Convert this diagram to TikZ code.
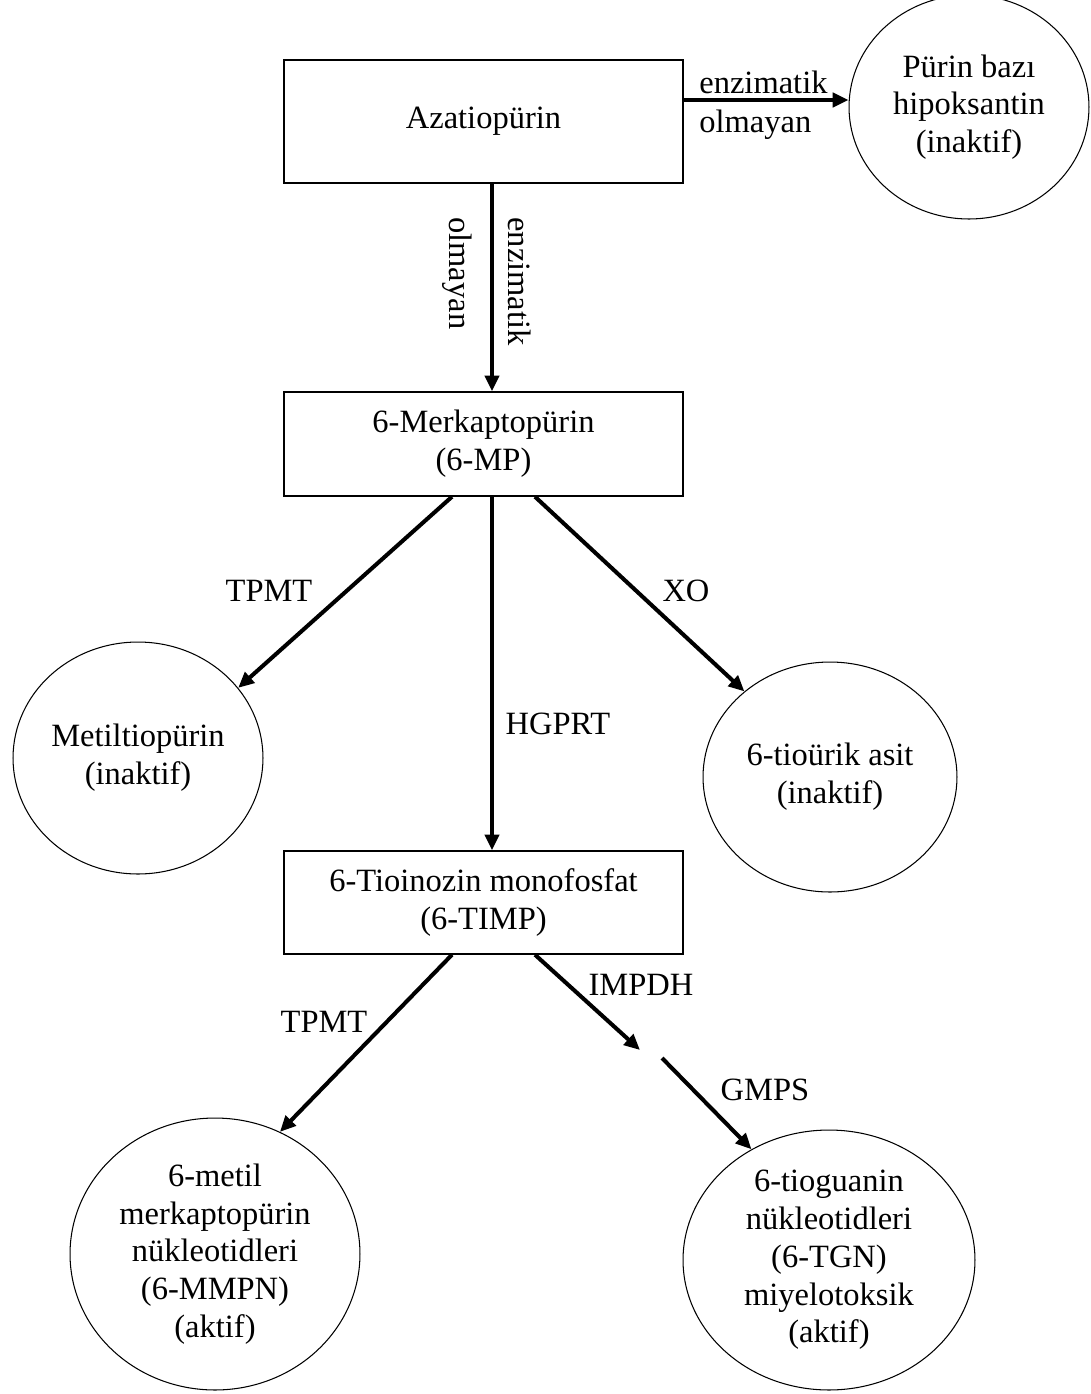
\documentclass[tikz,border=0pt]{standalone}
\usepackage{fontspec}
\setmainfont{Liberation Serif}
\usepackage{tikz}
\usetikzlibrary{shapes.geometric, arrows.meta, calc}

\begin{document}
\begin{tikzpicture}[x=0.02cm, y=-0.02cm,
    every node/.style={font=\fontsize{18.5}{21.5}\selectfont},
    drug/.style={rectangle, draw, line width=0.8pt, minimum width=7.98cm, inner sep=0pt, align=center},
    metabolite/.style={ellipse, draw, line width=0.6pt, inner sep=0pt, align=center},
    lbl/.style={inner sep=0pt},
    arrow/.style={-{Triangle[length=9pt, width=8pt]}, line width=2.3pt}
]
\useasboundingbox (0,0) rectangle (1091,1394);

\node[drug, minimum height=2.46cm] (aza) at (483.5,121.5) {Azatiopürin};
\node[metabolite, minimum width=4.8cm, minimum height=4.48cm] (pur) at (969,107) {Pürin bazı\\hipoksantin\\(inaktif)};
\node[drug, minimum height=2.08cm] (mp) at (483.5,444) {6-Merkaptopürin\\(6-MP)};
\node[metabolite, minimum width=5cm, minimum height=4.64cm] (mtp) at (138,758) {Metiltiopürin\\(inaktif)};
\node[metabolite, minimum width=5.08cm, minimum height=4.6cm] (tio) at (830,777) {6-tioürik asit\\(inaktif)};
\node[drug, minimum height=2.06cm] (timp) at (483.5,902.5) {6-Tioinozin monofosfat\\(6-TIMP)};
\node[metabolite, minimum width=5.8cm, minimum height=5.44cm] (mmpn) at (215,1254) {6-metil\\merkaptopürin\\nükleotidleri\\(6-MMPN)\\(aktif)};
\node[metabolite, minimum width=5.84cm, minimum height=5.2cm] (tgn) at (829,1260) {6-tioguanin\\nükleotidleri\\(6-TGN)\\miyelotoksik\\(aktif)};
\coordinate (impdh) at (640,1050);
\coordinate (gmps) at (662,1058);

% labels
\node[lbl, anchor=west] (enz1) at (699,82) {enzimatik};
\node[lbl, anchor=west] (olm1) at (699,125) {olmayan};
\node[lbl, anchor=west, rotate=-90] (enz2) at (520,217) {enzimatik};
\node[lbl, anchor=west, rotate=-90] (olm2) at (457,217) {olmayan};
\node[lbl] (tpmt1) at (269,591) {TPMT};
\node[lbl] (xo) at (686,591) {XO};
\node[lbl] (hgprt) at (558,724) {HGPRT};
\node[lbl] (tpmt2) at (324,1022) {TPMT};
\node[lbl] (impdhl) at (641,985) {IMPDH};
\node[lbl] (gmpsl) at (765,1090) {GMPS};

\draw[arrow] ([yshift=0.43cm]aza.east) -- ([yshift=0.43cm]aza.east -| pur.west);
\draw[arrow] ([xshift=0.17cm]aza.south) -- ([xshift=0.17cm]mp.north);
\draw[arrow] ([xshift=-0.63cm]mp.south) -- (mtp.35);
\draw[arrow] ([xshift=0.17cm]mp.south) -- ([xshift=0.17cm]timp.north);
\draw[arrow] ([xshift=1.03cm]mp.south) -- (tio.135);
\draw[arrow] ([xshift=-0.63cm]timp.south) -- (mmpn.62);
\draw[arrow] ([xshift=1.03cm]timp.south) -- (impdh);
\draw[arrow] (gmps) -- (tgn.125);
\end{tikzpicture}
\end{document}
